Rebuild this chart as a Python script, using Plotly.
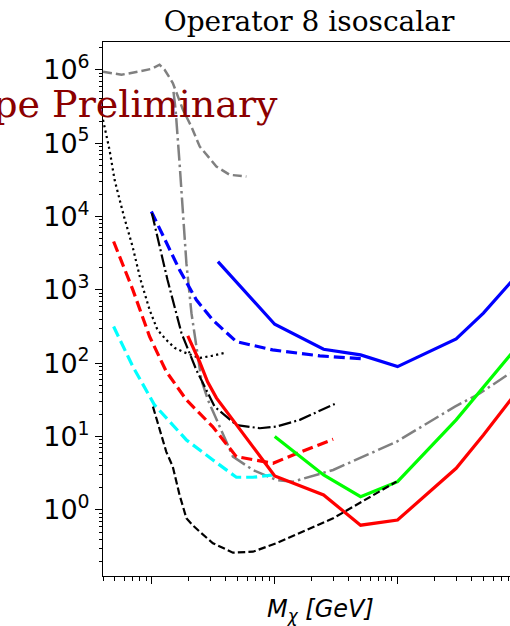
import numpy as np
import plotly.graph_objects as go

# ---------------- data (M_chi in GeV, cross-section limit) ----------------
gray_dash_m = [0.40, 0.566, 0.794, 1.0, 1.155, 1.27, 1.48, 1.79, 2.10, 2.45, 3.35, 4.30, 5.88]
gray_dash_s = [9.4e5, 8.55e5, 9.5e5, 1.03e6, 1.17e6, 1.0e6, 6.6e5, 2.85e5, 1.67e5, 9.0e4, 4.8e4, 3.7e4, 3.5e4]

gray_dashdot_m = [1.50, 1.56, 1.68, 1.79, 1.91, 2.10, 2.30, 2.53, 2.86, 3.24, 3.91, 4.57, 6.65, 10.3, 14.1, 29.9, 98.0, 293.0, 469.0, 823.0]
gray_dashdot_s = [5.0e5, 2.85e5, 5.35e4, 1.11e4, 2.31e3, 481, 169, 59, 31.6, 19.7, 10.0, 5.33, 3.51, 2.56, 2.43, 3.51, 8.5, 25.6, 39, 73]

black_dot_m = [0.40, 0.452, 0.497, 0.588, 0.697, 0.809, 0.958, 1.11, 1.31, 1.53, 1.79, 2.45, 3.07, 3.91]
black_dot_s = [2.08e5, 8.1e4, 3.16e4, 1.05e4, 3.86e3, 1.37e3, 534, 285, 208, 162, 143, 118, 126, 138]

blue_dash_m = [0.99, 1.31, 1.68, 2.30, 3.12, 4.87, 9.6, 23.3, 51.2]
blue_dash_s = [1.17e4, 4.38e3, 1.87e3, 731, 390, 197, 152, 126, 115]

blue_solid_m = [3.45, 10, 25, 50, 100, 300, 500, 1000]
blue_solid_s = [2.43e3, 340, 155, 130, 90, 215, 481, 1780]

black_dashdot_m = [1.0, 1.34, 1.74, 2.30, 3.24, 4.87, 7.55, 10.3, 16.0, 30.8]
black_dashdot_s = [1.11e4, 1.37e3, 259, 81, 25.6, 14.4, 13.0, 13.7, 16.9, 27.9]

red_dash_m = [0.488, 0.70, 0.958, 1.31, 1.91, 3.12, 4.87, 6.65, 9.69, 14.1, 29.9]
red_dash_s = [4.56e3, 1.0e3, 231, 77, 31.6, 13.7, 5.33, 4.9, 4.33, 5.62, 9.2]

cyan_dash_m = [0.488, 0.70, 1.05, 1.91, 3.14, 4.87, 6.65, 9.69]
cyan_dash_s = [316, 90, 27, 9.0, 4.8, 2.79, 2.79, 3.0]

red_solid_m = [1.96, 2.45, 2.84, 3.35, 8.0, 10, 25, 50, 100, 300, 500, 1000]
red_solid_s = [236, 104, 55.7, 33.7, 4.8, 2.91, 1.60, 0.62, 0.73, 3.7, 10.5, 47]

green_m = [10, 25, 50, 100, 300, 1000]
green_s = [10.0, 3.0, 1.52, 2.43, 16.9, 190]

black_dash_m = [1.02, 1.155, 1.31, 1.48, 1.68, 1.91, 2.15, 2.45, 3.14, 4.57, 6.65, 10.3, 29.9, 98.0]
black_dash_s = [25.6, 12.3, 6.2, 3.89, 1.60, 0.77, 0.62, 0.506, 0.352, 0.262, 0.27, 0.352, 0.77, 2.43]

y_tick_vals = [1, 10, 100, 1e3, 1e4, 1e5, 1e6]
y_tick_text = ["10<sup>0</sup>", "10<sup>1</sup>", "10<sup>2</sup>", "10<sup>3</sup>",
               "10<sup>4</sup>", "10<sup>5</sup>", "10<sup>6</sup>"]

title_text = "Operator 8 isoscalar"
prelim_text = "Scope Preliminary"
xlabel_text = "<i>M</i><sub><i>χ</i></sub><i> [GeV]</i>"

# ---------------- styles ----------------
series = [
    (gray_dash_m, gray_dash_s, "#808080", 2.5, "9px,4px"),
    (gray_dashdot_m, gray_dashdot_s, "#808080", 2.5, "16px,4px,2.5px,4px"),
    (black_dot_m, black_dot_s, "black", 2.2, "2.2px,3.3px"),
    (blue_dash_m, blue_dash_s, "#0000ff", 3.2, "11px,5px"),
    (blue_solid_m, blue_solid_s, "#0000ff", 3.2, "solid"),
    (black_dashdot_m, black_dashdot_s, "black", 2.2, "12.8px,3.2px,2px,3.2px"),
    (red_dash_m, red_dash_s, "#ff0000", 3.2, "11px,5px"),
    (cyan_dash_m, cyan_dash_s, "#00ffff", 3.2, "11px,5px"),
    (red_solid_m, red_solid_s, "#ff0000", 3.2, "solid"),
    (green_m, green_s, "#00ff00", 3.2, "solid"),
    (black_dash_m, black_dash_s, "black", 2.2, "7.4px,3.2px"),
]

fig = go.Figure()
for m, s, c, w, d in series:
    fig.add_trace(go.Scatter(x=m, y=s, mode="lines",
                             line=dict(color=c, width=w, dash=d),
                             showlegend=False, hoverinfo="skip"))

x_minor = [k * 10.0 ** e for e in range(-1, 3) for k in range(2, 10)]
y_minor = [k * 10.0 ** e for e in range(-1, 7) for k in range(2, 10)]

fig.update_layout(
    template="none",
    width=510, height=626,
    margin=dict(l=103, r=0, t=42, b=50, pad=0, autoexpand=False),
    paper_bgcolor="white", plot_bgcolor="white",
    showlegend=False,
    title=dict(text=title_text, x=309 / 510, xref="container", xanchor="center",
               y=1 - 21 / 626, yref="container", yanchor="middle", automargin=False,
               font=dict(family="DejaVu Serif", size=28, color="black")),
    xaxis=dict(type="log", range=[np.log10(0.4), np.log10(823)], automargin=False,
               showline=True, linecolor="black", linewidth=1, mirror=True,
               showgrid=False, zeroline=False,
               ticks="outside", ticklen=7, tickwidth=1, tickcolor="black",
               tickvals=[1, 10, 100], showticklabels=False,
               minor=dict(tickvals=x_minor, ticks="outside", ticklen=3.5,
                          tickwidth=1, tickcolor="black", showgrid=False)),
    yaxis=dict(type="log", range=[-0.9, 6.378], automargin=False,
               showline=True, linecolor="black", linewidth=1, mirror=False,
               showgrid=False, zeroline=False,
               ticks="outside", ticklen=7, tickwidth=1, tickcolor="black",
               tickvals=y_tick_vals, ticktext=y_tick_text,
               tickfont=dict(family="DejaVu Sans", size=27, color="black"),
               minor=dict(tickvals=y_minor, ticks="outside", ticklen=3.5,
                          tickwidth=1, tickcolor="black", showgrid=False)),
    annotations=[
        dict(text=prelim_text, xref="paper", yref="paper",
             x=(280 - 103) / 407, y=(576 - 104) / 534,
             xanchor="right", yanchor="middle", showarrow=False,
             font=dict(family="DejaVu Serif", size=38, color="#8b0000")),
        dict(text=xlabel_text, xref="paper", yref="paper",
             x=(320 - 103) / 407, y=(576 - 610) / 534,
             xanchor="center", yanchor="middle", showarrow=False,
             font=dict(family="DejaVu Sans", size=24, color="black")),
    ],
)

fig.write_html("out.html",
               config={"displayModeBar": False, "staticPlot": True},
               post_script="document.body.style.margin='0';document.body.style.overflow='hidden';")
